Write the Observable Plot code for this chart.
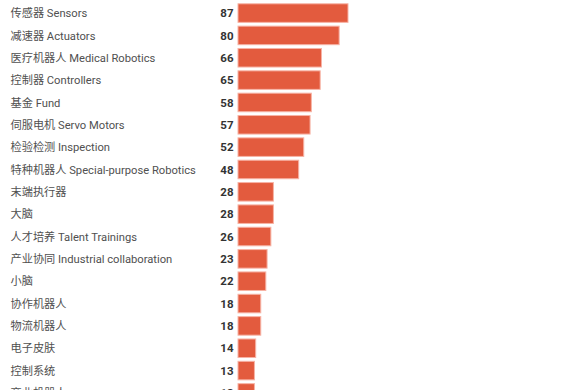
<!DOCTYPE html>
<html>
<head>
<meta charset="utf-8">
<script src="https://cdn.jsdelivr.net/npm/d3@7"></script>
<script src="https://cdn.jsdelivr.net/npm/@observablehq/plot@0.6"></script>
<style>
  html, body { margin: 0; padding: 0; background: #fff; overflow: hidden; }
  #chart svg { display: block; }
</style>
</head>
<body>
<div id="chart"></div>
<script>
const labels = [
  "传感器 Sensors",
  "减速器 Actuators",
  "医疗机器人 Medical Robotics",
  "控制器 Controllers",
  "基金 Fund",
  "伺服电机 Servo Motors",
  "检验检测 Inspection",
  "特种机器人 Special-purpose Robotics",
  "末端执行器",
  "大脑",
  "人才培养 Talent Trainings",
  "产业协同 Industrial collaboration",
  "小脑",
  "协作机器人",
  "物流机器人",
  "电子皮肤",
  "控制系统",
  "商业机器人"
];
const values = [87, 80, 66, 65, 58, 57, 52, 48, 28, 28, 26, 23, 22, 18, 18, 14, 13, 13];

const data = labels.map((label, i) => ({label, value: values[i]}));

const chart = Plot.plot({
  width: 575,
  height: 406,
  marginTop: 0,
  marginBottom: 0,
  marginLeft: 238,
  marginRight: 227,
  style: {fontFamily: "Roboto, 'Noto Sans CJK SC', sans-serif", fontSize: "11px"},
  x: {domain: [0, 87], axis: null},
  y: {domain: labels, axis: null, padding: 0.17, round: false},
  marks: [
    Plot.barX(data, {x: "value", y: "label", fill: "#e35b3e", stroke: "#f7b3a5", strokeWidth: 1}),
    Plot.text(data, {x: 0, y: "label", text: "label", textAnchor: "start", dx: -228, fill: "#505050", fontSize: 11.2}),
    Plot.text(data, {x: 0, y: "label", text: d => String(d.value), textAnchor: "end", dx: -5, fill: "#333", fontWeight: "bold", fontSize: 11.5})
  ]
});
document.getElementById("chart").appendChild(chart);
</script>
</body>
</html>
